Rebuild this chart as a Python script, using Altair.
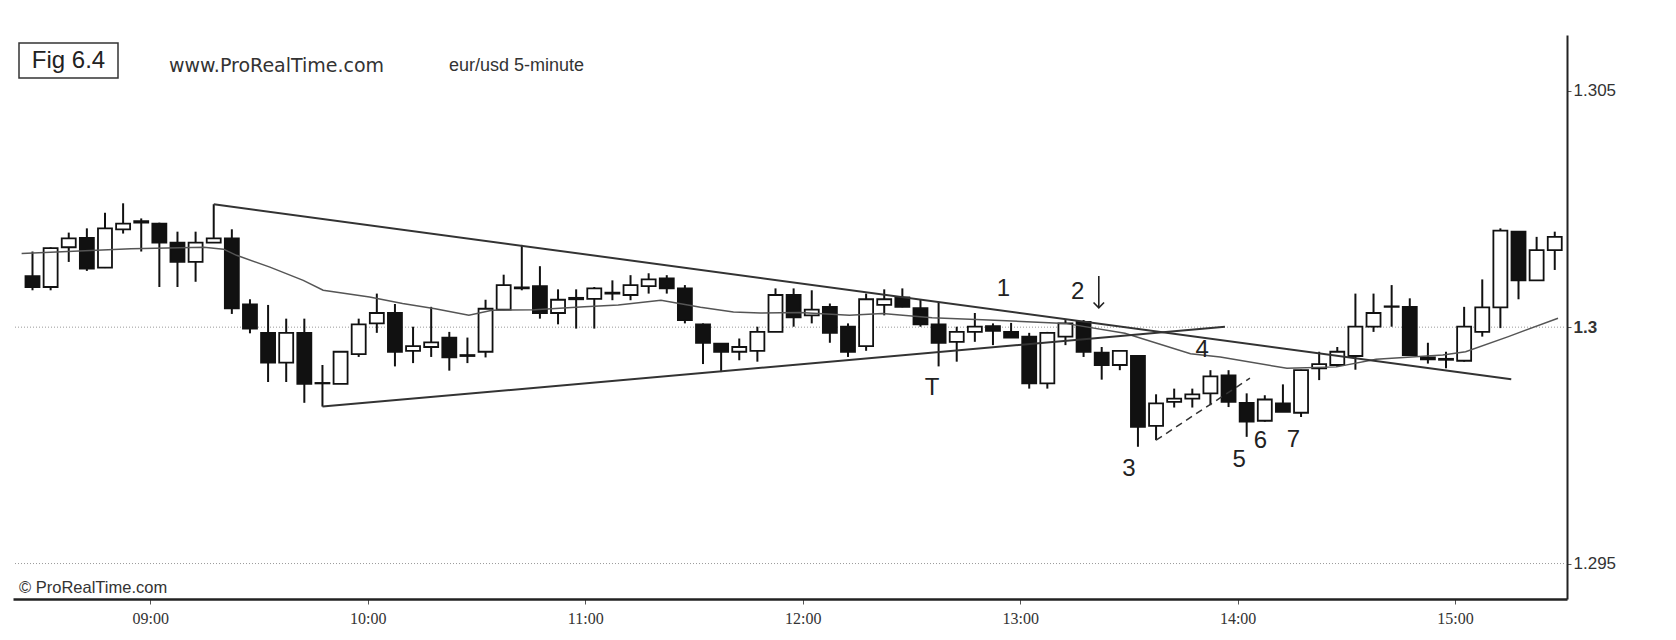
import altair as alt
import pandas as pd

# ---------------- data ----------------
start_time = "08:25"      # first 5-minute bar
bar_minutes = 5

opens = [1.30108, 1.30085, 1.30169, 1.30189, 1.30126, 1.30207, 1.30224, 1.30219, 1.30179, 1.30138,
         1.30179, 1.30188, 1.30048, 1.29988, 1.29925, 1.29988, 1.29882, 1.29880, 1.29943, 1.30008,
         1.30030, 1.29950, 1.29958, 1.29978, 1.29941, 1.29948, 1.30037, 1.30084, 1.30087, 1.30030,
         1.30062, 1.30060, 1.30071, 1.30068, 1.30087, 1.30103, 1.30082, 1.30006, 1.29965, 1.29948,
         1.29950, 1.29990, 1.30068, 1.30025, 1.30043, 1.30001, 1.29960, 1.30047, 1.30063, 1.30040,
         1.30006, 1.29969, 1.29990, 1.30002, 1.29990, 1.29980, 1.29881, 1.29980, 1.30011, 1.29946,
         1.29920, 1.29939, 1.29791, 1.29842, 1.29849, 1.29860, 1.29898, 1.29840, 1.29802, 1.29839,
         1.29819, 1.29913, 1.29920, 1.29939, 1.30001, 1.30044, 1.30043, 1.29936, 1.29933, 1.29929,
         1.29990, 1.30042, 1.30202, 1.30099, 1.30163]
highs = [1.30160, 1.30169, 1.30200, 1.30209, 1.30242, 1.30262, 1.30230, 1.30221, 1.30202, 1.30202,
         1.30260, 1.30207, 1.30059, 1.30047, 1.30018, 1.30018, 1.29920, 1.29948, 1.30018, 1.30071,
         1.30049, 1.30001, 1.30043, 1.29990, 1.29978, 1.30058, 1.30111, 1.30174, 1.30129, 1.30080,
         1.30080, 1.30085, 1.30099, 1.30110, 1.30114, 1.30110, 1.30089, 1.30008, 1.29966, 1.29976,
         1.30001, 1.30082, 1.30082, 1.30078, 1.30050, 1.30008, 1.30071, 1.30080, 1.30082, 1.30059,
         1.30052, 1.30001, 1.30030, 1.30008, 1.30009, 1.29988, 1.29990, 1.30015, 1.30015, 1.29958,
         1.29950, 1.29939, 1.29858, 1.29870, 1.29870, 1.29909, 1.29909, 1.29860, 1.29856, 1.29879,
         1.29910, 1.29948, 1.29958, 1.30071, 1.30071, 1.30089, 1.30061, 1.29967, 1.29948, 1.30043,
         1.30101, 1.30209, 1.30202, 1.30191, 1.30202]
lows = [1.30078, 1.30078, 1.30138, 1.30119, 1.30125, 1.30198, 1.30160, 1.30085, 1.30085, 1.30096,
        1.30179, 1.30028, 1.29987, 1.29884, 1.29884, 1.29840, 1.29832, 1.29880, 1.29937, 1.29988,
        1.29917, 1.29924, 1.29937, 1.29908, 1.29924, 1.29936, 1.30036, 1.30078, 1.30018, 1.30006,
        1.29997, 1.29997, 1.30057, 1.30057, 1.30071, 1.30071, 1.30008, 1.29922, 1.29905, 1.29930,
        1.29927, 1.29990, 1.30001, 1.30008, 1.29967, 1.29937, 1.29950, 1.30025, 1.30042, 1.30001,
        1.29917, 1.29927, 1.29969, 1.29962, 1.29978, 1.29870, 1.29870, 1.29962, 1.29937, 1.29889,
        1.29909, 1.29747, 1.29761, 1.29830, 1.29830, 1.29835, 1.29831, 1.29768, 1.29800, 1.29821,
        1.29810, 1.29888, 1.29916, 1.29910, 1.29990, 1.30001, 1.29939, 1.29923, 1.29913, 1.29927,
        1.29980, 1.29998, 1.30059, 1.30099, 1.30121]
closes = [1.30085, 1.30167, 1.30188, 1.30124, 1.30209, 1.30219, 1.30221, 1.30179, 1.30138, 1.30179,
          1.30188, 1.30040, 1.29997, 1.29925, 1.29988, 1.29880, 1.29881, 1.29948, 1.30006, 1.30030,
          1.29948, 1.29960, 1.29968, 1.29936, 1.29939, 1.30039, 1.30089, 1.30082, 1.30030, 1.30058,
          1.30059, 1.30082, 1.30073, 1.30089, 1.30101, 1.30082, 1.30015, 1.29967, 1.29948, 1.29958,
          1.29990, 1.30068, 1.30021, 1.30037, 1.29988, 1.29948, 1.30059, 1.30059, 1.30043, 1.30006,
          1.29967, 1.29990, 1.30001, 1.29992, 1.29978, 1.29881, 1.29988, 1.30008, 1.29948, 1.29920,
          1.29950, 1.29789, 1.29839, 1.29849, 1.29858, 1.29896, 1.29842, 1.29800, 1.29847, 1.29821,
          1.29909, 1.29922, 1.29948, 1.30001, 1.30030, 1.30043, 1.29941, 1.29932, 1.29931, 1.30001,
          1.30042, 1.30204, 1.30099, 1.30163, 1.30191]

# moving average (minutes since midnight, price)
ma_time = [504.5, 534.7, 554.8, 560.2, 563.8, 573.0, 582.2, 587.7, 600.5, 609.6, 618.6, 627.9,
           634.3, 646.0, 659.8, 669.1, 680.9, 691.8, 700.9, 708.3, 719.2, 732.9, 742.0, 755.7,
           771.3, 792.4, 808.9, 827.0, 835.2, 853.6, 867.3, 878.2, 896.6, 902.9, 914.7, 928.4]
ma_value = [1.30156, 1.30166, 1.30169, 1.30165, 1.30152, 1.30127, 1.30099, 1.30078, 1.30064,
            1.30050, 1.30039, 1.30025, 1.30036, 1.30037, 1.30043, 1.30047, 1.30057, 1.30042,
            1.30032, 1.30030, 1.30031, 1.30025, 1.30029, 1.30020, 1.30015, 1.30008, 1.29987,
            1.29944, 1.29937, 1.29913, 1.29916, 1.29932, 1.29941, 1.29948, 1.29980, 1.30019]

# drawn trend lines
upper_line_time = [557.5, 915.5]
upper_line_value = [1.30260, 1.29890]
lower_line_time = [587.5, 836.5]
lower_line_value = [1.29832, 1.30001]
dash_line_time = [817.5, 843.4]
dash_line_value = [1.29761, 1.29892]

grid_levels = [1.3, 1.295]
price_ticks = [1.295, 1.3, 1.305]
hour_ticks = ["09:00", "10:00", "11:00", "12:00", "13:00", "14:00", "15:00"]

note_text = ["1", "2", "T", "3", "4", "5", "6", "7"]
note_time = [775.4, 795.9, 755.7, 810.0, 830.2, 840.4, 846.3, 855.4]
note_value = [1.30081, 1.30074, 1.29871, 1.29701, 1.29952, 1.29719, 1.29760, 1.29762]

# the down arrow after "2"
arrow_time = [801.7]
arrow_top = [1.30108]
arrow_tip = [1.30041]

# ---------------- build tables ----------------
def to_min(s):
    h, m = s.split(":")
    return int(h) * 60 + int(m)

t0 = to_min(start_time)
candles = pd.DataFrame({
    "t": [t0 + bar_minutes * (i + 0.5) for i in range(len(opens))],
    "open": opens, "high": highs, "low": lows, "close": closes,
})
ma = pd.DataFrame({"t": ma_time, "v": ma_value})
trend = pd.DataFrame({
    "t": upper_line_time + lower_line_time,
    "v": upper_line_value + lower_line_value,
    "line": ["upper"] * len(upper_line_time) + ["lower"] * len(lower_line_time),
})
dash = pd.DataFrame({"t": dash_line_time, "v": dash_line_value})
grid = pd.DataFrame({"v": grid_levels})
notes = pd.DataFrame({"t": note_time, "v": note_value, "txt": note_text})
arrows = pd.DataFrame({"t": arrow_time, "top": arrow_top, "tip": arrow_tip})

X_DOMAIN = [503.5, 929.5]
Y_DOMAIN = [1.29425, 1.30618]

def X(field):
    return alt.X(field, type="quantitative",
                 scale=alt.Scale(domain=X_DOMAIN, nice=False, zero=False),
                 axis=alt.Axis(values=[to_min(h) for h in hour_ticks],
                               labelExpr="(floor(datum.value/60) < 10 ? '0' : '') + floor(datum.value/60) + ':00'",
                               title=None, grid=False, domainColor="#222", domainWidth=2.5,
                               tickColor="#555", tickSize=5, labelPadding=6,
                               labelFont="Liberation Sans Narrow", labelFontSize=16,
                               labelColor="#333"))

def Y(field):
    return alt.Y(field, type="quantitative",
                 scale=alt.Scale(domain=Y_DOMAIN, nice=False, zero=False),
                 axis=alt.Axis(orient="right", values=price_ticks, title=None, grid=False,
                               labelExpr="datum.value == 1.3 ? '1.3' : format(datum.value, '.3f')",
                               labelFontWeight={"condition": {"test": "datum.value == 1.3", "value": "bold"},
                                                "value": "normal"},
                               domainColor="#222", domainWidth=2, tickColor="#555", tickSize=4,
                               labelPadding=2, labelFont="Liberation Sans", labelFontSize=17,
                               labelColor="#333"))

gridlines = alt.Chart(grid).mark_rule(color="#9a9a9a", strokeWidth=1, strokeDash=[1, 2]).encode(y=Y("v"))

wicks = alt.Chart(candles).mark_rule(color="#111", strokeWidth=2).encode(x=X("t"), y=Y("low"), y2="high")

bodies = alt.Chart(candles).mark_bar(size=14, stroke="#111", strokeWidth=1.8).encode(
    x=X("t"), y=Y("open"), y2="close",
    fill=alt.condition("datum.close >= datum.open", alt.value("white"), alt.value("#111")),
)

ma_line = alt.Chart(ma).mark_line(color="#555", strokeWidth=1.5).encode(x=X("t"), y=Y("v"))

trend_lines = alt.Chart(trend).mark_line(color="#333", strokeWidth=2).encode(
    x=X("t"), y=Y("v"), detail="line:N")

dash_line = alt.Chart(dash).mark_line(color="#333", strokeWidth=1.5, strokeDash=[7, 5]).encode(
    x=X("t"), y=Y("v"))

note_marks = alt.Chart(notes).mark_text(font="Liberation Sans", fontSize=24, color="#222",
                                         align="center", baseline="middle").encode(
    x=X("t"), y=Y("v"), text="txt:N")

arrow_shaft = alt.Chart(arrows).mark_rule(color="#222", strokeWidth=1.6).encode(
    x=X("t"), y=Y("top"), y2="tip")
arrow_head = alt.Chart(arrows).mark_point(shape="M -1 -1 L 0 0 L 1 -1", size=110, filled=False,
                                           stroke="#222", strokeWidth=1.6, opacity=1).encode(
    x=X("t"), y=Y("tip"))

one = pd.DataFrame({"k": [0]})
fig_box = alt.Chart(one).mark_rect(fill="white", stroke="#333", strokeWidth=1.5).encode(
    x=alt.value(6), x2=alt.value(105), y=alt.value(8), y2=alt.value(43))
fig_text = alt.Chart(one).mark_text(font="Liberation Sans", fontSize=24, color="#222",
                                     align="center", baseline="middle", text="Fig 6.4").encode(
    x=alt.value(55.5), y=alt.value(26))
site_text = alt.Chart(one).mark_text(font="DejaVu Sans", fontSize=19, color="#333",
                                      align="left", baseline="middle", text="www.ProRealTime.com").encode(
    x=alt.value(156), y=alt.value(31))
pair_text = alt.Chart(one).mark_text(font="Liberation Sans", fontSize=18, color="#333",
                                      align="left", baseline="middle", text="eur/usd  5-minute").encode(
    x=alt.value(436), y=alt.value(31))
copy_text = alt.Chart(one).mark_text(font="Liberation Sans", fontSize=16.5, color="#333",
                                      align="left", baseline="middle", text="\u00a9 ProRealTime.com").encode(
    x=alt.value(6), y=alt.value(553))

chart = alt.layer(
    gridlines, wicks, bodies, ma_line, trend_lines, dash_line, note_marks, arrow_shaft, arrow_head,
    fig_box, fig_text, site_text, pair_text, copy_text,
).properties(
    width=1554, height=564,
    autosize=alt.AutoSizeParams(type="none"),
    padding={"left": 5, "top": 27, "right": 60, "bottom": 30},
    background="white",
).configure_view(stroke=None)

chart.save("out.html", embed_options={"renderer": "svg", "actions": False})
